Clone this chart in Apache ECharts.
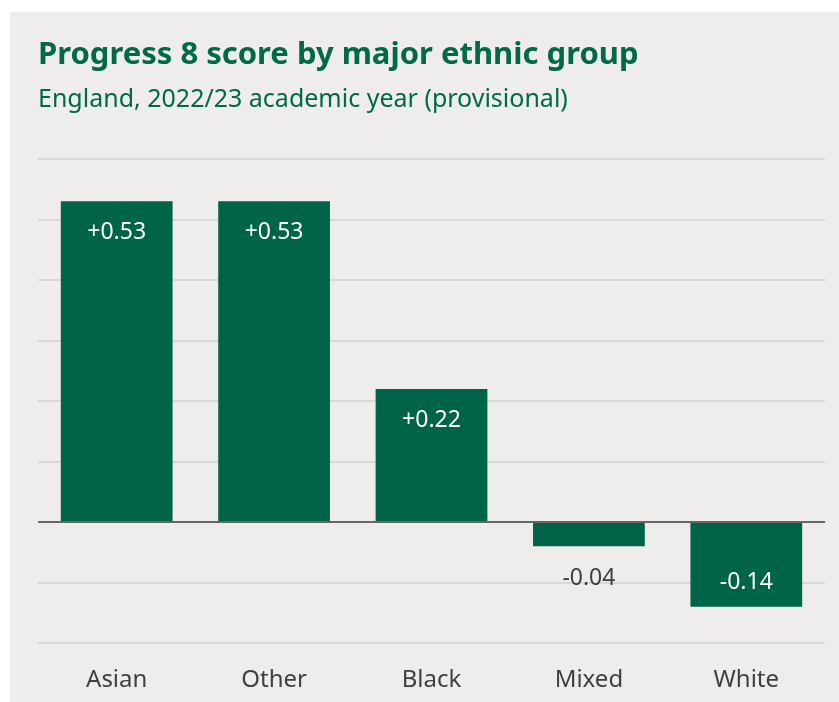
<!DOCTYPE html>
<html lang="en">

<head>
    <meta charset="UTF-8">
    <title>Progress 8 score by major ethnic group</title>
    <script type="text/javascript" src="https://cdn.jsdelivr.net/npm/echarts@6/dist/echarts.min.js"></script>
    <style>
        html, body { margin: 0; padding: 0; background: #fff; }
        .chart { width: 839px; height: 702px; }
    </style>
</head>

<body>
    <div class="chart"></div>
</body>
<script>
    // data
    let groups = ['Asian', 'Other', 'Black', 'Mixed', 'White']
    let scores = [0.53, 0.53, 0.22, -0.04, -0.14]

    let green = '#006548'

    // label placement: inside for big bars, outside below for the tiny one
    let barData = scores.map(function (v) {
        let label
        if (v > 0) {
            label = { position: 'insideTop', distance: 20, color: '#fff' }
        } else if (v > -0.1) {
            label = { position: 'bottom', distance: 21, color: '#404040' }
        } else {
            label = { position: 'insideBottom', distance: 13, color: '#fff' }
        }
        return { value: v, label: label }
    })

    let mCharts = echarts.init(document.querySelector('.chart'))
    let option = {
        backgroundColor: '#fff',
        graphic: [{
            type: 'rect',
            left: 10,
            top: 12,
            shape: { width: 829, height: 690 },
            style: { fill: '#efedeb' },
            z: -10
        }],
        title: {
            text: 'Progress 8 score by major ethnic group',
            subtext: 'England, 2022/23 academic year (provisional)',
            left: 33,
            top: 35,
            itemGap: 16,
            textStyle: {
                color: '#00694a',
                fontFamily: 'Noto Sans',
                fontWeight: 'bold',
                fontSize: 31
            },
            subtextStyle: {
                color: '#00694a',
                fontFamily: 'Noto Sans',
                fontSize: 25
            }
        },
        grid: {
            left: 38,
            right: 14,
            top: 159,
            bottom: 59,
            outerBoundsMode: 'none'
        },
        xAxis: {
            type: 'category',
            data: groups,
            axisTick: { show: false },
            axisLine: { show: false, onZero: false },
            axisLabel: {
                color: '#404040',
                fontFamily: 'Noto Sans',
                fontSize: 24,
                margin: 25
            }
        },
        yAxis: {
            type: 'value',
            min: -0.2,
            max: 0.6,
            interval: 0.1,
            axisLabel: { show: false },
            axisLine: { show: false },
            axisTick: { show: false },
            splitLine: { lineStyle: { color: '#d9d8d6', width: 2 } }
        },
        series: [{
            type: 'bar',
            data: barData,
            barWidth: '71%',
            itemStyle: { color: green },
            label: {
                show: true,
                fontFamily: 'Noto Sans',
                fontSize: 23,
                formatter: function (p) {
                    let v = p.value
                    return (v > 0 ? '+' : '') + v.toFixed(2)
                }
            },
            // zero baseline
            markLine: {
                silent: true,
                symbol: 'none',
                label: { show: false },
                lineStyle: { color: '#666', width: 2, type: 'solid' },
                data: [{ yAxis: 0 }]
            }
        }]
    };
    mCharts.setOption(option)
</script>

</html>
